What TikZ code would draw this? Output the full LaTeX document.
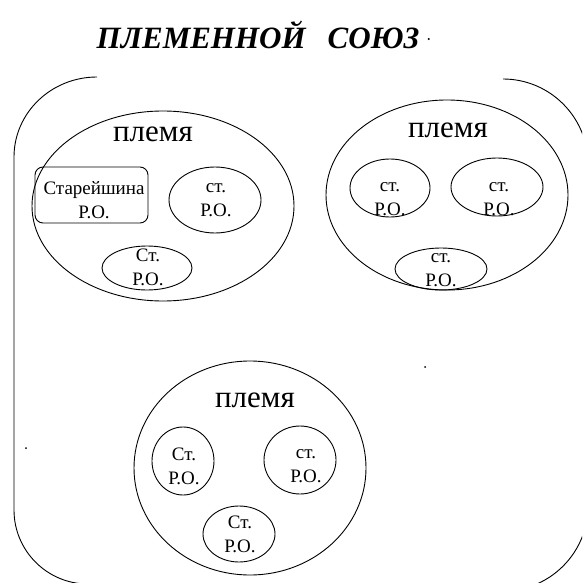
\documentclass[tikz,border=0pt]{standalone}
\usepackage{fontspec}
\setmainfont{LiberationSerif}[Extension=.ttf,UprightFont=*-Regular,BoldFont=*-Bold,ItalicFont=*-Italic,BoldItalicFont=*-BoldItalic]
\usetikzlibrary{shapes.geometric}
\begin{document}
\begin{tikzpicture}[x=1pt,y=-1pt,line width=0.9pt,
  tribe/.style={draw,ellipse,inner sep=0pt},
  clan/.style={draw,ellipse,inner sep=0pt},
  elder/.style={draw,rounded corners=8pt,inner sep=0pt,minimum width=113pt,minimum height=56pt},
  lbl/.style={font=\fontsize{19}{24}\selectfont,align=center,inner sep=0pt},
  tlbl/.style={font=\fontsize{31}{32}\selectfont,inner sep=0pt},
  speck/.style={fill=black}]
\useasboundingbox (0,0) rectangle (582,583);
\clip (0,0) rectangle (582,583);

% title
\node[font=\fontsize{31}{34}\selectfont\bfseries\itshape,inner sep=0pt] (title) at (258,35) {ПЛЕМЕННОЙ\hspace{22pt}СОЮЗ};
\fill[speck] (title.east) ++(9,4) circle (1.1pt);

% outer union boundary (open at the top)
\draw (97,77) .. controls (51.2,77) and (14,112.8) .. (14,157) -- (14,510)
      .. controls (14,550.8) and (47.2,584) .. (88,584);
\draw (503,79) .. controls (549.9,79) and (588,117.1) .. (588,164) -- (588,506)
      .. controls (588,552.9) and (549.9,591) .. (503,591);

% tribe 1
\node[tribe,minimum width=262pt,minimum height=190pt] (t1) at (163,206) {};
\node[tlbl] (t1l) at (153,134) {племя};
\node[elder] (r1) at (91.5,195) {};
\node[lbl] (r1t) at (94,200) {Старейшина\\Р.О.};
\node[clan,minimum width=92pt,minimum height=66pt] (c12) at (215,200) {};
\node[lbl] (c12t) at (216,200) {ст.\\Р.О.};
\node[clan,minimum width=90pt,minimum height=44pt] (c13) at (147,268) {};
\node[lbl] (c13t) at (148,267) {Ст.\\Р.О.};

% tribe 2
\node[tribe,minimum width=242pt,minimum height=190pt] (t2) at (447,195) {};
\node[tlbl] (t2l) at (448,130) {племя};
\node[clan,minimum width=80pt,minimum height=58pt] (c21) at (390,188) {};
\node[lbl] (c21t) at (390,199) {ст.\\Р.О.};
\node[clan,minimum width=92pt,minimum height=58pt] (c22) at (497,187) {};
\node[lbl] (c22t) at (499,199) {ст.\\Р.О.};
\node[clan,minimum width=92pt,minimum height=42pt] (c23) at (441,269) {};
\node[lbl] (c23t) at (441,270) {ст.\\Р.О.};

% tribe 3
\node[tribe,minimum width=232pt,minimum height=214pt] (t3) at (250,468) {};
\node[tlbl] (t3l) at (255,400) {племя};
\node[clan,minimum width=62pt,minimum height=68pt] (c31) at (183,461) {};
\node[lbl] (c31t) at (184,466) {Ст.\\Р.О.};
\node[clan,minimum width=72pt,minimum height=68pt] (c32) at (300,460) {};
\node[lbl] (c32t) at (306,466) {ст.\\Р.О.};
\node[clan,minimum width=72pt,minimum height=56pt] (c33) at (239,534) {};
\node[lbl] (c33t) at (240,534) {Ст.\\Р.О.};

% scan specks
\fill[speck] (425,367) circle (1pt);
\fill[speck] (26,448) circle (1pt);
\end{tikzpicture}
\end{document}
